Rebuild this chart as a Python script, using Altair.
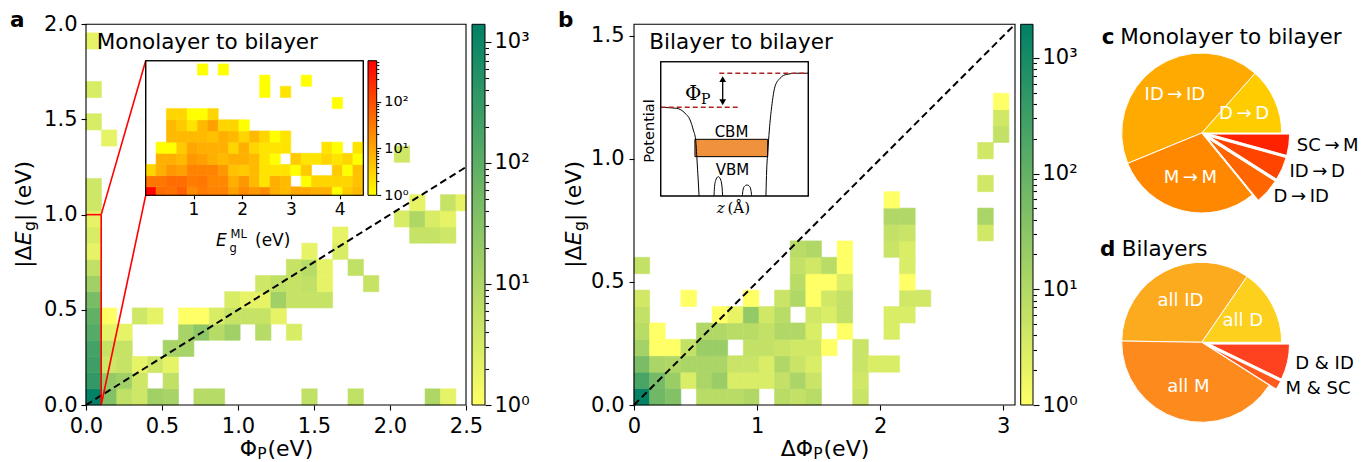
import altair as alt
import pandas as pd

W, H = 1370, 462
FONT = "DejaVu Sans"
SERIF = "DejaVu Serif"

# ---------------------------------------------------------------- data
# Panel a: 2D histogram |dEg| vs PhiP  (row j -> {column i: count})
A_X_BIN = 0.1014
A_Y_BIN = 0.085
A_COUNTS = [
    {0: 1300, 1: 35, 2: 6, 3: 4, 4: 15, 5: 12, 7: 8, 8: 8, 14: 6, 17: 6, 22: 10, 23: 2},
    {0: 350, 1: 20, 2: 15, 3: 4, 5: 6},
    {0: 250, 1: 4, 2: 5, 3: 2, 4: 4, 5: 2},
    {0: 200, 1: 5, 2: 5, 5: 12, 6: 12},
    {0: 130, 1: 2, 2: 2, 6: 12, 7: 25, 8: 8, 9: 15, 11: 8, 13: 3},
    {0: 90, 1: 1, 3: 4, 4: 2, 6: 1, 7: 1, 8: 3, 9: 5, 10: 5, 11: 5, 12: 2},
    {0: 45, 9: 3, 10: 2, 11: 2, 12: 15, 13: 5, 14: 5, 15: 5},
    {0: 15, 11: 4, 12: 6, 13: 5, 14: 6, 15: 2, 18: 5},
    {0: 6, 13: 5, 14: 8, 15: 2, 17: 6},
    {0: 2, 14: 2, 16: 3},
    {0: 3, 16: 2, 21: 5, 22: 5, 23: 4},
    {0: 2, 20: 3, 21: 10, 22: 3, 23: 2},
    {0: 4, 21: 2, 23: 5, 24: 2},
    {0: 4},
    {},
    {20: 4},
    {1: 2},
    {0: 3},
    {},
    {0: 3},
    {},
    {},
    {0: 2},
]
A_X_DOMAIN = [0, 2.5]
A_Y_DOMAIN = [0, 2.0]
A_C_DOMAIN = [1, 1400]
A_DIAG_X = [0, 2.5]
A_DIAG_Y = [0, 1.25]
A_BOX = [0.1, 1.0]          # zoomed region: PhiP < 0.1 eV, |dEg| < 1 eV

# Panel a inset: |dEg| vs Eg(ML)
IN_X0, IN_X_BIN = 0.019, 0.2126
IN_Y0, IN_Y_BIN = -0.02, 0.083
IN_COUNTS = [
    {0: 700, 1: 45, 2: 40, 3: 60, 4: 20, 5: 30, 6: 25, 7: 25, 8: 12, 9: 20, 10: 15,
     11: 20, 12: 8, 13: 6, 14: 10, 15: 10, 16: 8, 17: 8, 18: 1, 19: 4, 20: 6},
    {0: 35, 1: 35, 2: 45, 3: 45, 4: 30, 5: 35, 6: 22, 7: 22, 8: 8, 9: 15, 10: 6,
     11: 2, 12: 8, 13: 6, 15: 1, 16: 3, 17: 3, 18: 3, 19: 3, 20: 5},
    {0: 3, 1: 8, 2: 15, 3: 12, 4: 25, 5: 25, 6: 25, 7: 15, 8: 5, 9: 4, 10: 6,
     11: 2, 12: 2, 13: 2, 14: 1, 15: 4, 18: 4, 19: 1, 20: 5},
    {1: 8, 2: 8, 3: 6, 4: 15, 5: 12, 6: 8, 7: 6, 8: 8, 9: 8, 10: 6, 11: 2, 12: 1,
     14: 4, 15: 2, 16: 2, 17: 3, 18: 2, 19: 3, 20: 1},
    {1: 1, 2: 1, 3: 4, 4: 10, 5: 8, 6: 8, 7: 8, 8: 3, 9: 8, 10: 3, 11: 2, 12: 2,
     13: 2, 17: 2, 18: 1, 20: 2},
    {2: 6, 3: 6, 4: 6, 5: 6, 6: 5, 7: 8, 8: 6, 9: 3, 10: 6, 11: 3, 12: 1, 13: 2},
    {2: 6, 3: 4, 4: 2, 5: 6, 6: 12, 7: 3, 8: 3, 9: 1},
    {2: 3, 3: 3, 4: 1, 5: 1, 6: 3},
    {18: 1},
    {11: 1, 13: 2},
    {11: 1, 15: 1},
    {5: 1, 7: 1},
]
IN_X_DOMAIN = [0.019, 4.484]
IN_Y_DOMAIN = [0, 1.0]
IN_C_DOMAIN = [1, 750]

# Panel b: 2D histogram |dEg| vs dPhiP
B_X_BIN = 0.1269
B_Y_BIN = 0.0667
B_COUNTS = [
    {0: 1700, 1: 70, 2: 40, 4: 8, 5: 8, 6: 8, 7: 10, 9: 8, 10: 6, 11: 8, 14: 5},
    {0: 220, 1: 60, 2: 20, 3: 3, 4: 12, 5: 20, 6: 3, 7: 3, 8: 3, 9: 6, 10: 12, 11: 5, 14: 4},
    {0: 50, 1: 12, 2: 10, 3: 12, 4: 12, 5: 12, 6: 5, 7: 5, 8: 3, 9: 10, 10: 5, 11: 3,
     14: 5, 15: 3, 16: 3},
    {0: 15, 1: 1, 2: 1, 3: 6, 4: 20, 5: 20, 7: 6, 8: 6, 9: 5, 10: 4, 11: 4, 12: 1, 14: 5},
    {0: 8, 1: 1, 4: 10, 5: 10, 6: 8, 7: 8, 8: 6, 9: 10, 10: 10, 11: 3, 13: 1, 16: 3},
    {0: 6, 5: 1, 6: 2, 7: 25, 8: 4, 9: 8, 11: 4, 12: 3, 13: 6, 16: 3, 17: 3},
    {0: 4, 3: 1, 7: 1, 9: 5, 10: 10, 11: 1, 12: 4, 13: 6, 17: 4, 18: 4},
    {10: 8, 11: 1, 12: 1, 13: 3, 17: 1},
    {0: 6, 10: 6, 11: 4, 12: 8, 13: 1, 17: 3},
    {10: 8, 11: 10, 13: 1, 16: 5, 17: 3},
    {16: 6, 17: 5, 22: 4},
    {16: 10, 17: 10, 22: 12},
    {16: 1},
    {22: 4},
    {},
    {22: 4},
    {23: 6},
    {23: 4},
    {23: 1},
]
B_X_DOMAIN = [0, 3.095]
B_Y_DOMAIN = [0, 1.5475]
B_C_DOMAIN = [1, 1950]
B_DIAG_X = [0, 3.095]
B_DIAG_Y = [0, 1.5475]

# Panel b inset schematic (z, potential) in normalised units
SCH_LEFT_Z = [0.0, 0.108, 0.165, 0.199, 0.221, 0.237, 0.246, 0.254, 0.260]
SCH_LEFT_V = [0.660, 0.653, 0.616, 0.566, 0.491, 0.417, 0.268, 0.119, 0.0]
SCH_BUMP1_Z = [0.361, 0.364, 0.372, 0.390, 0.408, 0.416, 0.420]
SCH_BUMP1_V = [0.0, 0.06, 0.115, 0.144, 0.115, 0.06, 0.0]
SCH_BUMP2_Z = [0.553, 0.557, 0.566, 0.585, 0.603, 0.612, 0.616]
SCH_BUMP2_V = [0.0, 0.04, 0.07, 0.082, 0.07, 0.04, 0.0]
SCH_RIGHT_Z = [0.713, 0.718, 0.725, 0.736, 0.752, 0.774, 0.808, 0.854, 0.921, 1.0]
SCH_RIGHT_V = [0.0, 0.194, 0.318, 0.491, 0.665, 0.814, 0.876, 0.906, 0.914, 0.914]
SCH_BAND = [0.232, 0.725, 0.293, 0.422]      # z0, z1, VBM, CBM
SCH_VAC_LEFT = [0.0, 0.537, 0.660]           # z0, z1, level
SCH_VAC_RIGHT = [0.397, 1.0, 0.914]
SCH_ARROW = [0.420, 0.668, 0.900]            # z, v0, v1

# Pies
PIE_C_LABELS = ["D\u2009→\u2009D", "ID\u2009→\u2009ID", "M\u2009→\u2009M",
                "D\u2009→\u2009ID", "ID\u2009→\u2009D", "SC\u2009→\u2009M"]
PIE_C_VALUES = [13.4, 42.8, 29.7, 5.1, 4.7, 4.3]
PIE_D_LABELS = ["all D", "all ID", "all M", "M & SC", "D & ID"]
PIE_D_VALUES = [15.4, 34.3, 41.2, 1.8, 7.2]

# ---------------------------------------------------------------- styles / geometry
PIE_C_COLORS = ["#ffcc00", "#ffaa00", "#ff8800", "#ff6600", "#ff4400", "#ff2200"]
PIE_C_EXPLODE = [0, 0, 0, 0.1, 0.1, 0.1]
PIE_C_INSIDE = [True, True, True, False, False, False]
PIE_D_COLORS = ["#fdd01e", "#fdab1e", "#fd8a1c", "#fe5a1e", "#fe411e"]
PIE_D_EXPLODE = [0, 0, 0, 0.1, 0.1]
PIE_D_INSIDE = [True, True, True, False, False]

SUMMER_R = ["#ffff66", "#008066"]
AUTUMN_R = ["#ffff00", "#ff0000"]

A_PX, A_PY = [86, 466], [405, 24.3]
A_CB_PX = [472, 485]
IN_PX, IN_PY = [145.7, 363.3], [195.3, 60.7]
IN_CB_PX = [368, 376.7]
B_PX, B_PY = [634, 1015], [405, 24.3]
B_CB_PX = [1020.7, 1033]
SCH_PX, SCH_PY = [660.7, 808.3], [196, 61.7]

ONE = pd.DataFrame({"k": [0]})


def sc(dom, rng, typ="linear"):
    return alt.Scale(type=typ, domain=list(dom), range=list(rng), nice=False, zero=False, clamp=True)


def ax(orient, offset, values, fmt=None, size=21, tick=5, pad=4, label_expr=None, tick_size=None):
    kw = dict(orient=orient, offset=offset, values=values, labelFontSize=size, tickSize=tick,
              labelPadding=pad, domain=False, grid=False, title=None, labelFont=FONT,
              labelColor="black", tickColor="black", tickWidth=1.1, labelOverlap=False,
              labelFlush=False, zindex=2)
    if fmt:
        kw["format"] = fmt
    if label_expr:
        kw["labelExpr"] = label_expr
    if tick_size is not None:
        kw["tickSize"] = tick_size
    return alt.Axis(**kw)


def heat_df(rows, xbin, ybin, x0=0.0, y0=0.0):
    recs = []
    for j, row in enumerate(rows):
        for i, n in row.items():
            recs.append(dict(x0=x0 + i * xbin, x1=x0 + (i + 1) * xbin,
                             y0=y0 + j * ybin, y1=y0 + (j + 1) * ybin, n=n))
    return pd.DataFrame(recs)


def heat(df, xs, ys, cdom, crange, xaxis=None, yaxis=None):
    cs = alt.Scale(type="log", domain=cdom, range=crange, interpolate="rgb")
    return alt.Chart(df).mark_rect(strokeWidth=0.6).encode(
        x=alt.X("x0:Q", scale=xs, axis=xaxis), x2="x1:Q",
        y=alt.Y("y0:Q", scale=ys, axis=yaxis), y2="y1:Q",
        fill=alt.Fill("n:Q", scale=cs, legend=None),
        stroke=alt.Stroke("n:Q", scale=cs, legend=None),
    )


def txt(s, x, y, size=21, align="left", baseline="alphabetic", color="black",
        weight="normal", style="normal", font=FONT, angle=None):
    mk = dict(text=s, align=align, baseline=baseline, fontSize=size, color=color,
              fontWeight=weight, fontStyle=style, font=font)
    if angle is not None:
        mk["angle"] = angle
    return alt.Chart(ONE).mark_text(**mk).encode(x=alt.value(x), y=alt.value(y))


def frame(x0, x1, y0, y1, fill=None, sw=1.1):
    mk = dict(stroke="black", strokeWidth=sw)
    if fill:
        mk["fill"] = fill
    else:
        mk["fillOpacity"] = 0
    return alt.Chart(ONE).mark_rect(**mk).encode(
        x=alt.value(x0), x2=alt.value(x1), y=alt.value(y0), y2=alt.value(y1))


def colorbar(px, py, dom, colors, majors, minors, size, tmaj, tmin, pad):
    df = pd.DataFrame({"lo": [dom[0]], "hi": [dom[1]]})
    sup = {1: "10⁰", 10: "10¹", 100: "10²", 1000: "10³"}
    expr = " : ".join(f"datum.value == {k} ? '{v}'" for k, v in sup.items()) + " : ''"
    test = " || ".join(f"datum.value == {k}" for k in majors)
    grad = {"gradient": "linear", "x1": 0, "x2": 0, "y1": 1, "y2": 0,
            "stops": [{"offset": 0, "color": colors[0]}, {"offset": 1, "color": colors[1]}]}
    axis = ax("right", px[1] - W, majors + minors, size=size, pad=pad, label_expr=expr,
              tick_size={"condition": {"test": test, "value": tmaj}, "value": tmin})
    return alt.Chart(df).mark_rect(fill=grad, stroke="black", strokeWidth=1).encode(
        x=alt.value(px[0]), x2=alt.value(px[1]),
        y=alt.Y("lo:Q", scale=sc(dom, py, "log"), axis=axis), y2="hi:Q")


def ytitle(xb, yc, size=22, sub=15.5):
    w1 = (0.337 + 0.684) * size
    w2 = 0.632 * size
    w3 = 0.635 * sub
    w4 = (0.337 + 0.318 + 2.079) * size
    y = yc + (w1 + w2 + w3 + w4) / 2
    out = [txt("|Δ", xb, y, size, angle=270)]
    y -= w1
    out.append(txt("E", xb, y, size, style="italic", angle=270))
    y -= w2 + 0.5
    out.append(txt("g", xb + 4, y, sub, angle=270))
    y -= w3
    out.append(txt("| (eV)", xb, y, size, angle=270))
    return out


def xtitle(prefix, xc, yb, size=22, sub=15.5):
    w_pre = {"Φ": 0.790, "ΔΦ": 0.684 + 0.790}[prefix] * size
    w_sub = 0.603 * sub
    w_post = 2.079 * size
    x = xc - (w_pre + w_sub + w_post) / 2
    return [txt(prefix, x, yb, size), txt("P", x + w_pre, yb + 2.5, sub),
            txt("(eV)", x + w_pre + w_sub + 1, yb, size)]


def pie(labels, values, colors, explode, inside, cx, cy, r, fs=18):
    df = pd.DataFrame({"label": labels, "v": values, "col": colors, "ex": explode,
                       "inside": inside, "k": list(range(len(labels)))})
    base = (alt.Chart(df)
            .transform_joinaggregate(tot="sum(v)")
            .transform_window(cum="sum(v)", sort=[alt.SortField("k", order="ascending")])
            .transform_calculate(a0="2*PI*(datum.cum-datum.v)/datum.tot")
            .transform_calculate(a1="2*PI*datum.cum/datum.tot")
            .transform_calculate(am="(datum.a0+datum.a1)/2")
            .transform_calculate(th0="5*PI/2-datum.a1")
            .transform_calculate(th1="5*PI/2-datum.a0")
            .transform_calculate(cx=f"{cx}+datum.ex*{r}*cos(datum.am)")
            .transform_calculate(cy=f"{cy}-datum.ex*{r}*sin(datum.am)")
            .transform_calculate(lr=f"datum.inside ? {0.58 * r} : {1.1 * r}")
            .transform_calculate(lx="datum.cx+datum.lr*cos(datum.am)")
            .transform_calculate(ly="datum.cy-datum.lr*sin(datum.am)"))
    arcs = base.mark_arc(radius=r, stroke="white", strokeWidth=1).encode(
        theta=alt.Theta("th0:Q", scale=None), theta2="th1:Q",
        x=alt.X("cx:Q", scale=None, axis=None), y=alt.Y("cy:Q", scale=None, axis=None),
        fill=alt.Fill("col:N", scale=None))
    t_in = base.transform_filter("datum.inside").mark_text(
        fontSize=fs, color="white", align="center", baseline="middle", font=FONT).encode(
        x=alt.X("lx:Q", scale=None, axis=None), y=alt.Y("ly:Q", scale=None, axis=None), text="label:N")
    t_out = base.transform_filter("!datum.inside").mark_text(
        fontSize=fs, color="black", align="left", baseline="middle", font=FONT).encode(
        x=alt.X("lx:Q", scale=None, axis=None), y=alt.Y("ly:Q", scale=None, axis=None), text="label:N")
    return [arcs, t_in, t_out]


L = []

# ---------------------------------------------------------------- panel a
xa, ya = sc(A_X_DOMAIN, A_PX), sc(A_Y_DOMAIN, A_PY)
L.append(heat(heat_df(A_COUNTS, A_X_BIN, A_Y_BIN), xa, ya, A_C_DOMAIN, SUMMER_R,
              xaxis=ax("bottom", A_PY[0] - H, [0, 0.5, 1.0, 1.5, 2.0, 2.5], ".1f", pad=5),
              yaxis=ax("left", -A_PX[0], [0, 0.5, 1.0, 1.5, 2.0], ".1f", pad=4)))
L.append(alt.Chart(pd.DataFrame({"x": A_DIAG_X, "y": A_DIAG_Y})).mark_line(
    color="black", strokeWidth=2, strokeDash=[7, 4]).encode(
    x=alt.X("x:Q", scale=xa, axis=None), y=alt.Y("y:Q", scale=ya, axis=None)))
# red zoom box + connectors (inset corners expressed in panel-a data units)
in_left = (IN_PX[0] - A_PX[0]) / (A_PX[1] - A_PX[0]) * A_X_DOMAIN[1]
in_top = (A_PY[0] - IN_PY[1]) / (A_PY[0] - A_PY[1]) * A_Y_DOMAIN[1]
in_bot = (A_PY[0] - IN_PY[0]) / (A_PY[0] - A_PY[1]) * A_Y_DOMAIN[1]
red = pd.DataFrame({
    "x": [0, A_BOX[0], A_BOX[0], A_BOX[0]],
    "y": [A_BOX[1], A_BOX[1], A_BOX[1], 0],
    "x2": [A_BOX[0], A_BOX[0], in_left, in_left],
    "y2": [A_BOX[1], 0, in_top, in_bot],
})
L.append(alt.Chart(red).mark_rule(color="red", strokeWidth=1.6).encode(
    x=alt.X("x:Q", scale=xa, axis=None), y=alt.Y("y:Q", scale=ya, axis=None), x2="x2:Q", y2="y2:Q"))
L.append(frame(A_PX[0], A_PX[1], A_PY[1], A_PY[0]))
L.append(colorbar(A_CB_PX, A_PY, A_C_DOMAIN, SUMMER_R, [1, 10, 100, 1000],
                  [2, 3, 4, 5, 6, 7, 8, 9, 20, 30, 40, 50, 60, 70, 80, 90,
                   200, 300, 400, 500, 600, 700, 800, 900], 21, 6, 3.5, 3))

# inset of panel a
L.append(frame(IN_PX[0], IN_PX[1], IN_PY[1], IN_PY[0], fill="white"))
xi, yi = sc(IN_X_DOMAIN, IN_PX), sc(IN_Y_DOMAIN, IN_PY)
L.append(heat(heat_df(IN_COUNTS, IN_X_BIN, IN_Y_BIN, IN_X0, IN_Y0), xi, yi, IN_C_DOMAIN, AUTUMN_R,
              xaxis=ax("bottom", IN_PY[0] - H, [1, 2, 3, 4], "d", size=17, tick=3.5, pad=3)))
L.append(frame(IN_PX[0], IN_PX[1], IN_PY[1], IN_PY[0]))
L.append(colorbar(IN_CB_PX, IN_PY, IN_C_DOMAIN, AUTUMN_R, [1, 10, 100],
                  [2, 3, 4, 5, 6, 7, 8, 9, 20, 30, 40, 50, 60, 70, 80, 90,
                   200, 300, 400, 500, 600, 700], 14.5, 4, 2, 3))
L += [txt("E", 216, 246, 17, style="italic"), txt("ML", 230.5, 237.5, 11.5),
      txt("g", 229.5, 251.5, 11.5), txt("(eV)", 255, 246, 17)]

L.append(txt("Monolayer to bilayer", 96.7, 48.5, 21.5))
L.append(txt("a", 10, 26.7, 21.5, weight="bold"))
L += xtitle("Φ", (A_PX[0] + A_PX[1]) / 2, 456)
L += ytitle(30.6, (A_PY[0] + A_PY[1]) / 2)

# ---------------------------------------------------------------- panel b
xb, yb = sc(B_X_DOMAIN, B_PX), sc(B_Y_DOMAIN, B_PY)
L.append(heat(heat_df(B_COUNTS, B_X_BIN, B_Y_BIN), xb, yb, B_C_DOMAIN, SUMMER_R,
              xaxis=ax("bottom", B_PY[0] - H, [0, 1, 2, 3], "d", pad=5),
              yaxis=ax("left", -B_PX[0], [0, 0.5, 1.0, 1.5], ".1f", pad=5)))
L.append(alt.Chart(pd.DataFrame({"x": B_DIAG_X, "y": B_DIAG_Y})).mark_line(
    color="black", strokeWidth=2, strokeDash=[7, 4]).encode(
    x=alt.X("x:Q", scale=xb, axis=None), y=alt.Y("y:Q", scale=yb, axis=None)))
L.append(frame(B_PX[0], B_PX[1], B_PY[1], B_PY[0]))
L.append(colorbar(B_CB_PX, B_PY, B_C_DOMAIN, SUMMER_R, [1, 10, 100, 1000],
                  [2, 3, 4, 5, 6, 7, 8, 9, 20, 30, 40, 50, 60, 70, 80, 90,
                   200, 300, 400, 500, 600, 700, 800, 900], 21, 6, 3.5, 3))

# schematic inset of panel b
L.append(frame(SCH_PX[0], SCH_PX[1], SCH_PY[1], SCH_PY[0], fill="white"))
xs_, ys_ = sc([0, 1], SCH_PX), sc([0, 1], SCH_PY)
curve = []
for seg, (zz, vv) in enumerate([(SCH_LEFT_Z, SCH_LEFT_V), (SCH_BUMP1_Z, SCH_BUMP1_V),
                                (SCH_BUMP2_Z, SCH_BUMP2_V), (SCH_RIGHT_Z, SCH_RIGHT_V)]):
    for k, (z, v) in enumerate(zip(zz, vv)):
        curve.append(dict(seg=seg, k=k, z=z, v=v))
band = pd.DataFrame({"z0": [SCH_BAND[0]], "z1": [SCH_BAND[1]], "v0": [SCH_BAND[2]], "v1": [SCH_BAND[3]]})
L.append(alt.Chart(band).mark_rect(fill="#f0913c", stroke="black", strokeWidth=1).encode(
    x=alt.X("z0:Q", scale=xs_, axis=None), x2="z1:Q",
    y=alt.Y("v0:Q", scale=ys_, axis=None), y2="v1:Q"))
L.append(alt.Chart(pd.DataFrame(curve)).mark_line(
    color="black", strokeWidth=1, interpolate="monotone").encode(
    x=alt.X("z:Q", scale=xs_, axis=None), y=alt.Y("v:Q", scale=ys_, axis=None),
    detail="seg:N", order="k:Q"))
vac = pd.DataFrame({"z0": [SCH_VAC_LEFT[0], SCH_VAC_RIGHT[0]], "z1": [SCH_VAC_LEFT[1], SCH_VAC_RIGHT[1]],
                    "v": [SCH_VAC_LEFT[2], SCH_VAC_RIGHT[2]]})
L.append(alt.Chart(vac).mark_rule(color="#b22222", strokeWidth=1.5, strokeDash=[5, 3]).encode(
    x=alt.X("z0:Q", scale=xs_, axis=None), x2="z1:Q", y=alt.Y("v:Q", scale=ys_, axis=None)))
arrow = pd.DataFrame({"z": [SCH_ARROW[0]], "v0": [SCH_ARROW[1] + 0.04], "v1": [SCH_ARROW[2] - 0.04]})
L.append(alt.Chart(arrow).mark_rule(color="black", strokeWidth=1.3).encode(
    x=alt.X("z:Q", scale=xs_, axis=None), y=alt.Y("v0:Q", scale=ys_, axis=None), y2="v1:Q"))
heads = pd.DataFrame({"z": [SCH_ARROW[0], SCH_ARROW[0]], "v": [SCH_ARROW[2] - 0.03, SCH_ARROW[1] + 0.03],
                      "s": ["triangle-up", "triangle-down"]})
L.append(alt.Chart(heads).mark_point(filled=True, color="black", size=45, opacity=1).encode(
    x=alt.X("z:Q", scale=xs_, axis=None), y=alt.Y("v:Q", scale=ys_, axis=None),
    shape=alt.Shape("s:N", scale=None)))
L.append(frame(SCH_PX[0], SCH_PX[1], SCH_PY[1], SCH_PY[0]))
L += [txt("Φ", 685, 100, 20, font=SERIF), txt("P", 701, 104, 14, font=SERIF),
      txt("Potential", 650, 131, 14.5, align="center", baseline="middle", angle=270),
      txt("CBM", 731.5, 136.5, 15, align="center"), txt("VBM", 732.5, 174.5, 15, align="center"),
      txt("z", 716.7, 213, 15, style="italic", font=SERIF), txt("(Å)", 727.5, 213, 15, font=SERIF)]

L.append(txt("Bilayer to bilayer", 649.3, 48.5, 21.5))
L.append(txt("b", 558, 26.7, 21.5, weight="bold"))
L += xtitle("ΔΦ", (B_PX[0] + B_PX[1]) / 2, 456)
L += ytitle(580.6, (B_PY[0] + B_PY[1]) / 2)

# ---------------------------------------------------------------- pies
L += pie(PIE_C_LABELS, PIE_C_VALUES, PIE_C_COLORS, PIE_C_EXPLODE, PIE_C_INSIDE, 1201.7, 133.0, 80)
L += pie(PIE_D_LABELS, PIE_D_VALUES, PIE_D_COLORS, PIE_D_EXPLODE, PIE_D_INSIDE, 1201.7, 342.3, 80)
L += [txt("c", 1101.7, 44, 21.5, weight="bold"), txt("Monolayer to bilayer", 1120.3, 44, 21.5),
      txt("d", 1100, 255.5, 21.5, weight="bold"), txt("Bilayers", 1121.7, 255.5, 21.5)]

chart = (alt.layer(*L)
         .resolve_scale(x="independent", y="independent", fill="independent", stroke="independent")
         .properties(width=W, height=H, padding=0, autosize=alt.AutoSizeParams(type="none"))
         .configure_view(stroke=None)
         .configure_text(font=FONT))

chart.save("out.html", embed_options={"renderer": "svg", "actions": False})
